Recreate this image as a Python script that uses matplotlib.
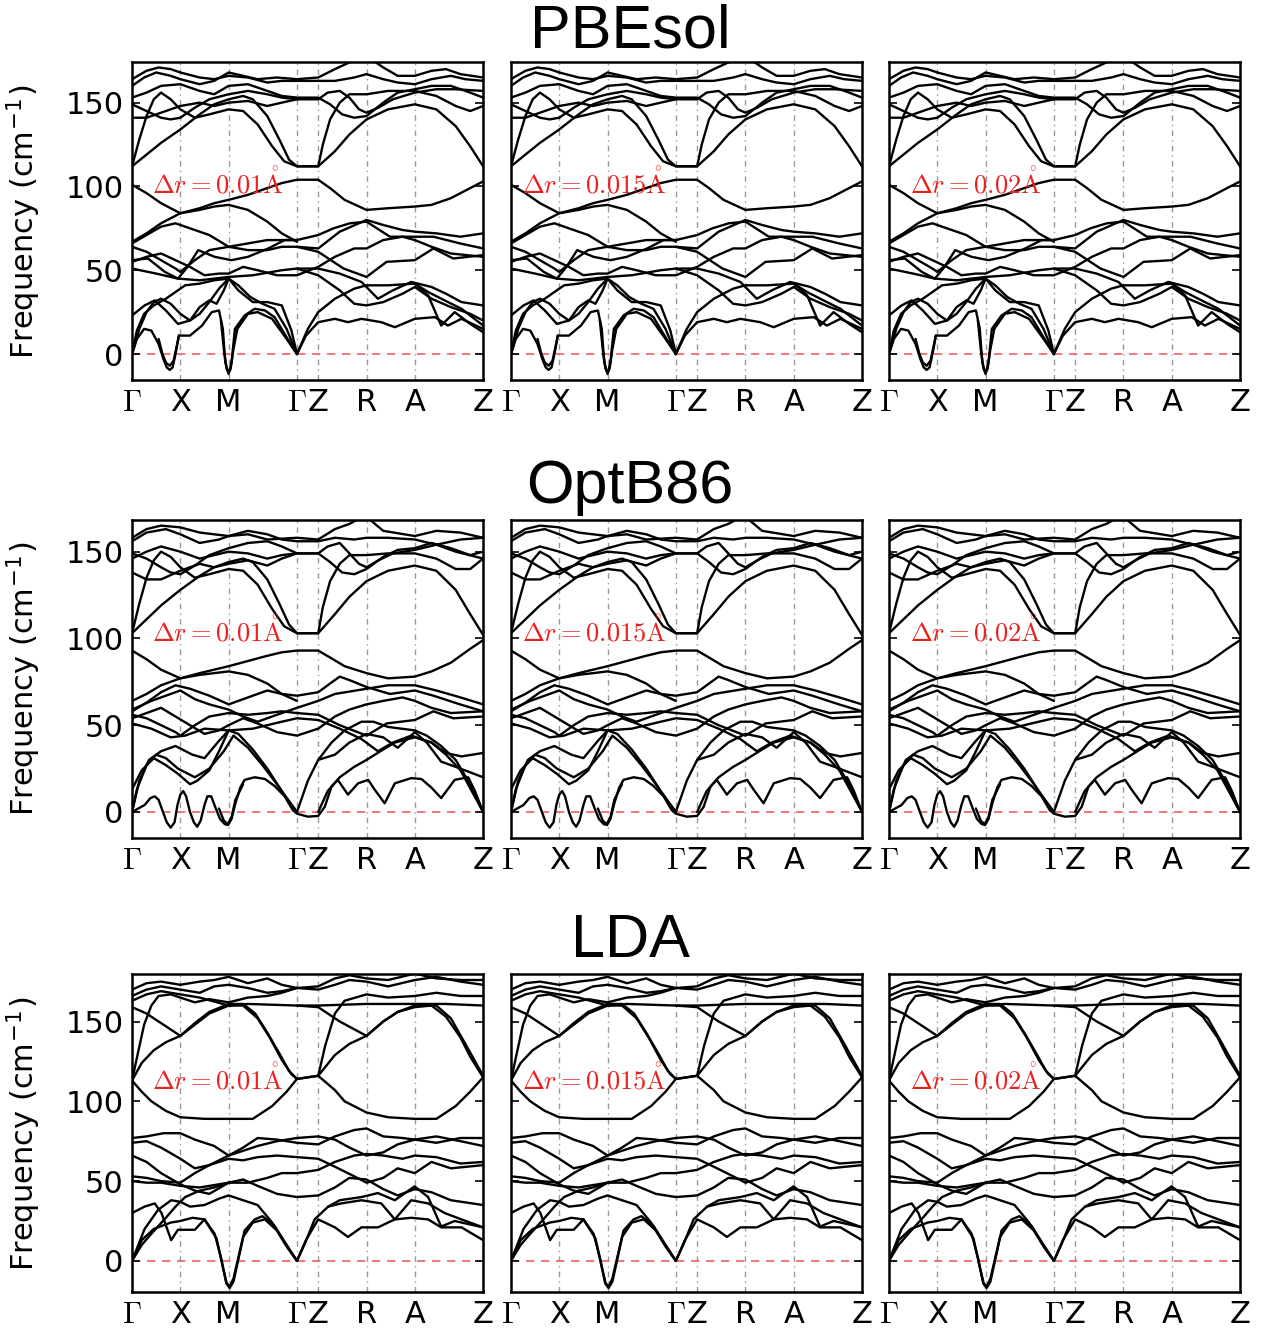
import matplotlib.pyplot as plt

plt.rcParams['mathtext.fontset'] = 'cm'

# high-symmetry path (k in units of Gamma-X)
sym_k = [0, 1, 2, 3.414, 3.854, 4.854, 5.854, 7.268]
sym_labels = ['$\\Gamma$', 'X', 'M', '$\\Gamma$', 'Z', 'R', 'A', 'Z']

titles = ['PBEsol', 'OptB86', 'LDA']
shifts = ['0.01', '0.015', '0.02']
ylims = [(-15.5, 174), (-15, 168), (-19.5, 179.5)]
label_f = [102, 104, 113.5]
label_k = [0.41, 0.23, 0.43]

# ---- PBEsol bands, (k, frequency cm^-1) ----
pbesol_high = [
    [(0, 164), (0.3, 169), (0.55, 171), (0.8, 170), (1.0, 168), (1.4, 165), (1.7, 164), (2.0, 166), (2.4, 165), (2.8, 162), (3.1, 163), (3.414, 163), (3.854, 163), (4.2, 163), (4.6, 165), (4.854, 167), (5.2, 164), (5.5, 162), (5.854, 161), (6.2, 164), (6.6, 166), (6.9, 164), (7.268, 163)],
    [(0, 160), (0.25, 165), (0.5, 168), (0.8, 166), (1.0, 164), (1.4, 161), (1.7, 163), (2.0, 168), (2.3, 166), (2.6, 164), (3.0, 165), (3.414, 164), (3.854, 165), (4.2, 170), (4.5, 174), (4.75, 177)],
    [(4.9, 177), (5.2, 171), (5.5, 166), (5.854, 166), (6.2, 169), (6.5, 170), (6.8, 167), (7.268, 165)],
    [(0, 153), (0.3, 156), (0.6, 160), (1.0, 161), (1.4, 157), (1.7, 155), (2.0, 160), (2.4, 161), (2.8, 157), (3.1, 154), (3.414, 153), (3.854, 153), (4.1, 149), (4.35, 143), (4.6, 141), (4.854, 142), (5.2, 150), (5.5, 156), (5.854, 158), (6.2, 160), (6.6, 160), (7.0, 156), (7.268, 153)],
    [(0, 149), (0.3, 145), (0.6, 141), (0.8, 140), (1.0, 141), (1.3, 147), (1.6, 152), (2.0, 155), (2.4, 157), (2.8, 155), (3.1, 153), (3.414, 152), (3.854, 152), (4.05, 156), (4.3, 157), (4.5, 153), (4.7, 146), (4.854, 144), (5.1, 147), (5.4, 152), (5.854, 156), (6.3, 158), (6.7, 158), (7.268, 157)],
    [(0, 141), (0.3, 141), (0.6, 144), (1.0, 148), (1.4, 150), (1.7, 148), (2.0, 150), (2.4, 151), (2.8, 148), (3.1, 150), (3.414, 152)],
    [(0, 112), (0.3, 119), (0.6, 126), (1.0, 134), (1.4, 143), (1.7, 149), (2.0, 152), (2.3, 154), (2.5, 152), (2.8, 142), (3.05, 128), (3.25, 116), (3.414, 112), (3.854, 112), (4.2, 121), (4.5, 131), (4.854, 140), (5.3, 146), (5.854, 149), (6.3, 146), (6.7, 136), (7.0, 124), (7.268, 112)],
    [(0, 112), (0.15, 128), (0.3, 142), (0.45, 152), (0.6, 156), (0.8, 152), (1.0, 146), (1.3, 141), (1.6, 143), (2.0, 146), (2.3, 145), (2.6, 137), (2.9, 124), (3.15, 115), (3.414, 112), (3.854, 112), (3.95, 125), (4.1, 140), (4.3, 150), (4.5, 155), (4.854, 155), (5.3, 157), (5.854, 157), (6.3, 154), (6.7, 148), (7.0, 145), (7.268, 148)],
    [(0, 101), (0.3, 96), (0.6, 90), (1.0, 84), (1.4, 86), (1.7, 88), (2.0, 89), (2.4, 86), (2.8, 79), (3.1, 72), (3.414, 67)],
    [(0, 67), (0.3, 72), (0.6, 78), (1.0, 84), (1.4, 87), (1.7, 90), (2.0, 92), (2.4, 95), (2.8, 99), (3.1, 102), (3.414, 104), (3.854, 104), (4.1, 99), (4.4, 92), (4.854, 86), (5.3, 87), (5.854, 88), (6.2, 89), (6.6, 93), (7.0, 99), (7.268, 103)],
]
pbesol_low = [
    [(0, 66), (0.3, 71), (0.6, 76), (0.9, 78), (1.2, 75), (1.6, 71), (2.0, 64), (2.4, 66), (2.8, 68), (3.1, 68), (3.414, 68), (3.854, 71), (4.17, 75), (4.51, 78), (4.854, 79), (5.34, 70), (5.854, 70), (6.24, 70), (6.79, 66), (7.268, 63)],
    [(0, 64), (0.3, 61), (0.6, 56), (0.9, 51), (1.0, 49), (1.3, 56), (1.6, 62), (2.0, 64), (2.4, 62), (2.8, 62), (3.1, 64), (3.414, 64), (3.854, 61), (4.38, 51), (4.854, 46), (5.27, 55), (5.854, 56), (6.24, 63), (6.65, 57), (7.268, 59)],
    [(0, 55), (0.3, 58), (0.6, 60), (0.9, 56), (1.2, 52), (1.5, 47), (1.8, 48), (2.0, 48), (2.3, 52), (2.6, 50), (3.0, 47), (3.414, 47), (3.854, 52), (4.2, 58), (4.6, 63), (4.854, 63), (5.2, 68), (5.6, 70), (5.854, 68), (6.2, 64), (6.6, 60), (7.268, 58)],
    [(0, 51), (0.5, 48), (0.95, 45), (1.4, 44), (2.0, 46), (2.5, 47), (3.1, 50), (3.414, 51), (3.854, 51), (4.3, 48), (4.75, 43), (5.09, 33), (5.4, 38), (5.78, 43), (6.2, 40), (6.5, 36), (6.82, 31), (7.268, 29)],
    [(0, 56), (0.33, 57), (0.68, 49), (0.95, 45), (1.15, 52), (1.37, 62), (1.71, 58), (2.06, 56), (2.4, 58), (2.82, 63), (3.16, 68), (3.414, 68)],
    [(3.414, 64), (3.854, 63), (4.3, 73), (4.854, 80), (5.2, 77), (5.6, 74), (5.854, 73), (6.3, 72), (6.8, 70), (7.268, 72)],
    [(0, 0), (0.1, 9), (0.25, 15), (0.4, 14), (0.55, 6), (0.65, -3), (0.72, -8), (0.78, -9.5), (0.84, -8), (0.9, 0), (0.97, 11), (1.2, 11), (1.45, 17), (1.65, 25), (1.8, 26), (1.88, 15), (1.93, -5), (2.0, -12), (2.06, -5), (2.13, 15), (2.33, 23), (2.54, 27), (2.75, 26), (2.95, 22), (3.2, 10), (3.414, 0)],
    [(0.55, 9), (0.63, 0), (0.7, -5), (0.78, -7), (0.86, -4), (0.92, 4), (0.97, 11)],
    [(1.84, 20), (1.9, 3), (1.96, -9), (2.0, -11), (2.04, -9), (2.1, 3), (2.18, 15), (2.4, 24), (2.6, 25), (2.9, 21), (3.2, 9), (3.414, 0)],
    [(0, 0), (0.15, 15), (0.3, 25), (0.45, 31), (0.6, 33), (0.8, 30), (1.0, 24), (1.2, 20), (1.4, 24), (1.6, 31), (1.8, 39), (2.0, 45), (2.2, 41), (2.45, 34), (2.7, 30), (2.95, 27), (3.2, 15), (3.414, 0)],
    [(0, 0), (0.1, 14), (0.25, 24), (0.45, 29), (0.7, 33), (0.9, 37), (1.1, 41), (1.4, 42), (1.7, 44), (2.0, 45), (2.2, 38), (2.5, 31), (2.8, 31), (3.1, 29), (3.3, 14), (3.414, 0)],
    [(0, 23), (0.26, 29), (0.47, 32), (0.7, 26), (0.95, 18), (1.2, 20), (1.4, 28), (1.6, 32), (1.75, 30), (1.9, 38), (2.0, 45)],
    [(3.414, 0), (3.64, 15), (3.854, 25), (4.2, 33), (4.6, 39), (4.854, 41), (5.3, 41), (5.854, 42), (6.13, 35), (6.4, 17), (6.68, 25), (7.0, 18), (7.268, 13)],
    [(3.414, 0), (3.6, 11), (3.854, 19), (4.2, 21), (4.47, 19), (4.75, 21), (5.16, 19), (5.44, 16), (5.854, 21), (6.27, 22), (6.54, 17), (6.82, 21), (7.268, 15)],
    [(5.854, 42), (6.13, 37), (6.54, 31), (6.82, 27), (7.268, 17)],
    [(3.414, 51), (3.854, 47), (4.3, 38), (4.6, 30), (4.854, 29), (5.2, 31), (5.6, 36), (5.854, 40), (6.2, 33), (6.6, 28), (7.0, 24), (7.268, 20)],
]

# ---- OptB86 bands ----
optb86_high = [
    [(0, 158), (0.3, 163), (0.6, 165), (1.0, 164), (1.4, 161), (2.0, 159), (2.4, 160), (2.8, 157), (3.414, 158), (3.854, 157), (4.2, 163), (4.5, 166), (4.7, 169)],
    [(4.9, 169), (5.2, 162), (5.854, 159), (6.3, 162), (6.8, 161), (7.268, 158)],
    [(0, 156), (0.3, 161), (0.7, 163), (1.0, 160), (1.4, 155), (1.8, 157), (2.0, 159), (2.4, 162), (2.8, 160), (3.1, 157), (3.414, 156), (3.854, 156), (4.2, 158), (4.6, 157), (4.854, 158), (5.3, 158), (5.854, 157), (6.3, 154), (6.8, 157), (7.268, 158)],
    [(0, 149), (0.3, 146), (0.6, 141), (0.8, 138), (1.0, 137), (1.3, 142), (1.6, 148), (2.0, 152), (2.4, 155), (2.8, 156), (3.1, 153), (3.414, 149), (3.854, 149), (4.1, 144), (4.35, 138), (4.6, 137), (4.854, 140), (5.2, 147), (5.5, 151), (5.854, 152), (6.2, 155), (6.6, 152), (7.0, 148), (7.268, 150)],
    [(0, 146), (0.3, 150), (0.6, 153), (1.0, 150), (1.4, 146), (1.7, 148), (2.0, 150), (2.4, 149), (2.8, 146), (3.1, 148), (3.414, 149), (3.854, 149), (4.05, 153), (4.3, 155), (4.5, 149), (4.7, 143), (4.854, 141), (5.1, 145), (5.4, 149), (5.854, 151), (6.3, 154), (6.7, 150), (7.268, 146)],
    [(0, 138), (0.3, 134), (0.6, 134), (1.0, 139), (1.4, 143), (1.7, 141), (2.0, 143), (2.4, 145), (2.8, 142), (3.1, 146), (3.414, 149)],
    [(0, 103), (0.3, 111), (0.6, 119), (1.0, 128), (1.4, 136), (1.7, 141), (2.0, 144), (2.3, 146), (2.5, 144), (2.8, 134), (3.05, 120), (3.25, 108), (3.414, 103), (3.854, 103), (4.2, 114), (4.5, 124), (4.854, 133), (5.3, 139), (5.854, 142), (6.3, 139), (6.7, 128), (7.0, 114), (7.268, 102)],
    [(0, 103), (0.15, 120), (0.3, 135), (0.45, 145), (0.6, 150), (0.8, 147), (1.0, 141), (1.3, 135), (1.6, 137), (2.0, 140), (2.3, 139), (2.6, 131), (2.9, 117), (3.15, 107), (3.414, 103), (3.854, 103), (3.95, 118), (4.1, 133), (4.3, 143), (4.5, 148), (4.854, 148), (5.3, 149), (5.854, 149), (6.3, 146), (6.7, 140), (7.0, 140), (7.268, 146)],
    [(0, 93), (0.3, 88), (0.6, 82), (1.0, 77), (1.4, 79), (1.7, 80), (2.0, 81), (2.4, 79), (2.8, 74), (3.1, 68), (3.414, 64)],
    [(0, 64), (0.3, 68), (0.6, 73), (1.0, 77), (1.4, 80), (1.7, 82), (2.0, 84), (2.4, 87), (2.8, 90), (3.1, 92), (3.414, 93), (3.854, 93), (4.1, 89), (4.4, 84), (4.854, 80), (5.3, 77), (5.854, 78), (6.2, 81), (6.6, 86), (7.0, 94), (7.268, 99)],
]
optb86_low = [
    [(0, 58), (0.3, 63), (0.6, 69), (0.9, 73), (1.2, 71), (1.6, 67), (2.0, 62), (2.4, 66), (2.8, 70), (3.1, 68), (3.414, 67), (3.854, 69), (4.1, 74), (4.3, 78), (4.5, 76), (4.854, 72), (5.34, 68), (5.854, 70), (6.24, 67), (6.79, 62), (7.268, 58)],
    [(0, 56), (0.3, 54), (0.6, 50), (0.9, 46), (1.0, 44), (1.3, 50), (1.6, 55), (2.0, 57), (2.4, 56), (2.8, 57), (3.1, 58), (3.414, 57), (3.854, 56), (4.3, 50), (4.854, 44), (5.27, 51), (5.854, 53), (6.24, 58), (6.65, 54), (7.268, 55)],
    [(0, 54), (0.3, 57), (0.6, 60), (0.9, 55), (1.2, 50), (1.5, 45), (1.8, 47), (2.0, 50), (2.3, 54), (2.6, 51), (3.0, 46), (3.414, 44), (3.854, 48), (4.2, 55), (4.5, 59), (4.854, 62), (5.2, 64), (5.6, 66), (5.854, 64), (6.2, 60), (6.6, 57), (7.268, 58)],
    [(0, 51), (0.4, 48), (0.8, 43), (1.1, 44), (1.5, 48), (2.0, 47), (2.5, 48), (3.1, 52), (3.414, 54), (3.854, 53), (4.3, 48), (4.75, 42), (5.09, 35), (5.4, 40), (5.78, 44), (6.2, 40), (6.5, 34), (6.82, 32), (7.268, 34)],
    [(0, 59), (0.4, 64), (0.8, 68), (1.0, 70), (1.3, 65), (1.6, 62), (2.0, 59), (2.3, 55), (2.6, 52), (3.0, 56), (3.414, 60), (3.854, 64), (4.2, 68), (4.854, 71), (5.3, 73), (5.854, 73), (6.3, 70), (6.8, 66), (7.268, 62)],
    [(0, 0), (0.13, 2), (0.26, 4), (0.38, 8), (0.47, 9), (0.55, 7), (0.64, 0), (0.72, -6), (0.8, -9), (0.88, -6), (0.94, 4), (1.0, 10), (1.06, 12), (1.12, 9), (1.2, 0), (1.28, -6), (1.35, -8.5), (1.42, -5), (1.5, 4), (1.56, 9), (1.64, 9), (1.72, 3), (1.82, -4), (1.92, -7), (1.99, -7.5), (2.06, -4), (2.14, 5), (2.24, 14), (2.33, 18.5), (2.54, 20), (2.75, 19), (2.95, 15), (3.16, 9), (3.33, 1), (3.414, -1), (3.64, -2.7), (3.854, -2.3), (3.99, 3), (4.13, 14.6), (4.26, 18.5), (4.47, 10), (4.68, 16.5), (4.89, 18.5), (5.02, 13), (5.23, 5), (5.44, 16.5), (5.78, 19.5), (5.99, 19), (6.2, 14), (6.4, 8), (6.68, 18.5), (6.96, 20), (7.1, 12), (7.268, 0)],
    [(1.8, 2), (1.9, -5), (1.98, -7), (2.06, -3), (2.14, 7), (2.3, 16)],
    [(0, 0), (0.1, 13), (0.3, 27), (0.5, 33), (0.7, 31), (0.95, 25), (1.3, 20), (1.6, 25), (1.9, 35), (2.1, 44), (2.4, 37), (2.7, 27), (3.0, 16), (3.25, 6), (3.414, 0)],
    [(0, 0), (0.15, 18), (0.35, 30), (0.6, 35), (0.9, 38), (1.25, 33), (1.5, 31), (1.8, 41), (2.0, 47), (2.2, 45), (2.5, 36), (2.8, 25), (3.1, 12), (3.414, 0)],
    [(0, 13), (0.2, 24), (0.45, 31), (0.7, 27), (0.95, 22), (1.2, 16), (1.35, 18), (1.6, 24), (1.8, 35), (2.0, 47)],
    [(3.414, 0), (3.64, 18), (3.854, 30), (4.13, 40), (4.4, 47), (4.75, 52), (5.0, 52), (5.3, 49), (5.854, 47), (6.1, 44), (6.4, 38), (6.7, 30), (7.0, 16), (7.268, 0)],
    [(3.854, 0), (4.05, 12), (4.3, 20), (4.6, 26), (4.854, 30), (5.2, 36), (5.44, 40), (5.854, 43), (6.2, 40), (6.5, 33), (6.8, 24), (7.268, 0)],
    [(3.854, 30), (4.2, 33), (4.5, 40), (4.854, 45), (5.2, 43), (5.5, 37), (5.854, 46), (6.1, 40), (6.4, 29), (6.7, 26), (7.268, 20)],
]

# ---- LDA bands ----
lda_high = [
    [(0, 170), (0.3, 174), (0.6, 175), (1.0, 173), (1.4, 175), (1.7, 176), (2.0, 178), (2.4, 174), (2.8, 177), (3.1, 173), (3.414, 171), (3.854, 172), (4.2, 177), (4.5, 179), (4.854, 177), (5.3, 176), (5.854, 180), (6.3, 177), (6.8, 176), (7.268, 176)],
    [(0, 166), (0.3, 170), (0.6, 172), (1.0, 170), (1.4, 168), (1.7, 172), (2.0, 173), (2.4, 171), (2.8, 168), (3.1, 169), (3.414, 171), (3.854, 170), (4.2, 173), (4.5, 176), (4.854, 175), (5.3, 172), (5.854, 176), (6.3, 178), (6.8, 175), (7.268, 173)],
    [(0, 163), (0.3, 167), (0.6, 169), (1.0, 167), (1.4, 165), (2.0, 160), (2.4, 161), (3.414, 160), (3.854, 160), (4.854, 161), (5.854, 161), (6.5, 161), (7.268, 160)],
    [(0, 113), (0.12, 130), (0.25, 148), (0.4, 160), (0.55, 166), (0.8, 167), (1.0, 165), (1.3, 162), (1.6, 164), (2.0, 162), (2.4, 165), (2.8, 166), (3.1, 168), (3.414, 171)],
    [(0, 113), (0.2, 124), (0.45, 132), (0.7, 137), (1.0, 141), (1.3, 149), (1.6, 156), (2.0, 161), (2.3, 161), (2.55, 155), (2.8, 143), (3.05, 130), (3.25, 119), (3.414, 114)],
    [(0, 159), (0.3, 155), (0.6, 149), (1.0, 141), (1.3, 148), (1.6, 155), (2.0, 160), (2.3, 160), (2.6, 152), (2.85, 140), (3.1, 126), (3.3, 117), (3.414, 114)],
    [(0, 113), (0.2, 106), (0.4, 100), (0.7, 94), (1.0, 90), (1.5, 89), (2.0, 89), (2.5, 89), (2.9, 97), (3.2, 106), (3.414, 114), (3.854, 116), (4.2, 107), (4.4, 100), (4.854, 93), (5.3, 90), (5.854, 89), (6.3, 89), (6.7, 97), (7.0, 106), (7.268, 115)],
    [(3.414, 114), (3.854, 116), (4.2, 129), (4.5, 136), (4.854, 141), (5.2, 150), (5.5, 156), (5.854, 159), (6.2, 160), (6.5, 153), (6.8, 140), (7.0, 128), (7.268, 115)],
    [(3.854, 116), (4.0, 135), (4.2, 155), (4.4, 163), (4.854, 167), (5.3, 165), (5.854, 166), (6.3, 168), (6.8, 166), (7.268, 166)],
    [(3.414, 160), (3.854, 159), (4.3, 150), (4.854, 141), (5.2, 150), (5.5, 156), (5.854, 160), (6.3, 160), (6.6, 152), (6.9, 136), (7.268, 116)],
]
lda_low = [
    [(0, 77), (0.3, 78), (0.65, 80), (1.0, 80), (1.3, 76), (1.7, 72), (2.0, 66), (2.3, 69), (2.6, 72), (3.0, 75), (3.414, 77), (3.854, 78), (4.2, 76), (4.5, 71), (4.854, 66), (5.2, 68), (5.5, 73), (5.854, 76), (6.3, 74), (6.8, 77), (7.268, 77)],
    [(0, 74), (0.3, 75), (0.6, 71), (1.0, 64), (1.3, 58), (1.6, 60), (2.0, 66), (2.3, 71), (2.6, 77), (3.0, 76), (3.414, 74), (3.854, 73), (4.2, 78), (4.6, 82), (4.854, 83), (5.2, 78), (5.6, 77), (5.854, 76), (6.3, 78), (6.8, 75), (7.268, 72)],
    [(0, 53), (0.3, 52), (0.6, 50), (1.0, 49), (1.3, 55), (1.6, 60), (2.0, 64), (2.3, 63), (2.6, 65), (3.0, 66), (3.414, 65), (3.854, 64), (4.2, 59), (4.6, 53), (4.854, 49), (5.2, 52), (5.5, 58), (5.854, 55), (6.2, 62), (6.6, 58), (7.268, 60)],
    [(0, 50), (0.3, 49), (0.6, 49), (1.0, 47), (1.4, 46), (1.8, 48), (2.0, 49), (2.4, 49), (2.8, 52), (3.1, 55), (3.414, 55), (3.854, 57), (4.2, 62), (4.6, 66), (4.854, 67), (5.2, 66), (5.6, 64), (5.854, 66), (6.3, 65), (6.8, 61), (7.268, 62)],
    [(0, 66), (0.3, 62), (0.6, 55), (1.0, 48), (1.3, 44), (1.6, 42), (2.0, 49), (2.3, 51), (2.6, 47), (3.0, 42), (3.414, 40), (3.854, 41), (4.2, 46), (4.5, 52), (4.854, 51), (5.2, 45), (5.5, 41), (5.854, 45), (6.2, 43), (6.6, 38), (7.268, 35)],
    [(0, 0), (0.2, 13), (0.45, 20), (0.8, 24), (1.0, 25), (1.25, 27), (1.5, 26), (1.71, 17), (1.85, 1), (1.95, -14), (2.02, -17), (2.1, -13), (2.23, 5), (2.33, 19), (2.54, 26), (2.7, 28), (2.95, 22), (3.2, 10), (3.414, 0)],
    [(1.5, 26), (1.75, 14), (1.88, -4), (1.96, -14), (2.02, -16), (2.1, -11), (2.2, 2), (2.3, 15), (2.5, 24), (2.75, 26), (3.0, 19), (3.2, 9), (3.414, 0)],
    [(0, 0), (0.26, 20), (0.54, 32), (0.81, 38), (1.0, 37), (1.2, 34), (1.5, 35), (1.8, 39), (2.0, 41), (2.3, 38), (2.6, 35), (2.9, 24), (3.15, 12), (3.414, 0)],
    [(0, 30), (0.26, 34), (0.47, 36), (0.61, 30), (0.81, 13), (0.95, 19.5), (1.3, 19.5), (1.5, 26)],
    [(0, 0), (0.2, 10), (0.4, 17), (0.55, 22), (0.7, 27), (0.9, 34), (1.1, 40), (1.4, 44), (1.7, 46), (2.0, 49)],
    [(3.414, 0), (3.58, 11), (3.78, 26), (4.06, 34), (4.33, 36), (4.75, 38), (5.16, 36), (5.44, 26), (5.78, 38), (6.13, 36), (6.47, 30), (6.82, 26), (7.268, 21)],
    [(3.414, 0), (3.6, 13), (3.854, 26), (4.2, 21), (4.47, 15), (4.75, 21), (5.09, 21), (5.44, 26), (5.78, 27), (6.13, 26), (6.4, 21), (6.82, 21), (7.268, 13)],
    [(4.06, 34), (4.3, 38), (4.75, 40), (5.09, 42.5), (5.44, 38), (5.85, 46.7), (6.13, 40), (6.4, 21.5), (6.68, 25), (7.268, 21)],
]

row_bands = [pbesol_high + pbesol_low, optb86_high + optb86_low, lda_high + lda_low]

fig = plt.figure(figsize=(12.66, 13.31), dpi=100)
lefts = [0.1043, 0.4036, 0.7022]
bottoms = [0.7145, 0.3704, 0.0293]
title_y = [0.976, 0.6334, 0.2923]

for r in range(3):
    fig.text(0.4976, title_y[r], titles[r], ha='center', va='center',
             fontsize=44, family='Liberation Sans')
    for c in range(3):
        ax = fig.add_axes([lefts[c], bottoms[r], 0.2773, 0.2386])
        for k in sym_k[1:-1]:
            ax.axvline(k, color='0.6', lw=1, ls=(0, (4, 3, 1, 3)), zorder=1)
        ax.axhline(0, color='#f06060', lw=1.2, ls=(0, (5, 4)), zorder=1)
        for band in row_bands[r]:
            ks = [p[0] for p in band]
            fs = [p[1] for p in band]
            ax.plot(ks, fs, color='black', lw=1.7, zorder=2,
                    solid_joinstyle='round', solid_capstyle='round')
        ax.text(label_k[c], label_f[r], '$\\Delta r=' + shifts[c] + '\\mathring{\\mathrm{A}}$',
                color='#e82020', fontsize=19, va='center', ha='left', zorder=3)
        ax.set_xlim(0, sym_k[-1])
        ax.set_ylim(*ylims[r])
        ax.set_xticks(sym_k)
        ax.set_xticklabels(sym_labels, fontsize=22)
        ax.set_yticks([0, 50, 100, 150])
        ax.tick_params(axis='x', length=0, pad=6)
        ax.tick_params(axis='y', direction='in', length=6, width=1.2,
                       left=True, right=True, labelsize=22, pad=6)
        for s in ax.spines.values():
            s.set_linewidth(1.8)
        if c == 0:
            ax.set_ylabel('Frequency (cm$^{\\mathregular{-1}}$)', fontsize=22)
            ax.yaxis.set_label_coords(-0.255, 0.5)
        else:
            ax.set_yticklabels([])

fig.savefig('out.png', dpi=100)
